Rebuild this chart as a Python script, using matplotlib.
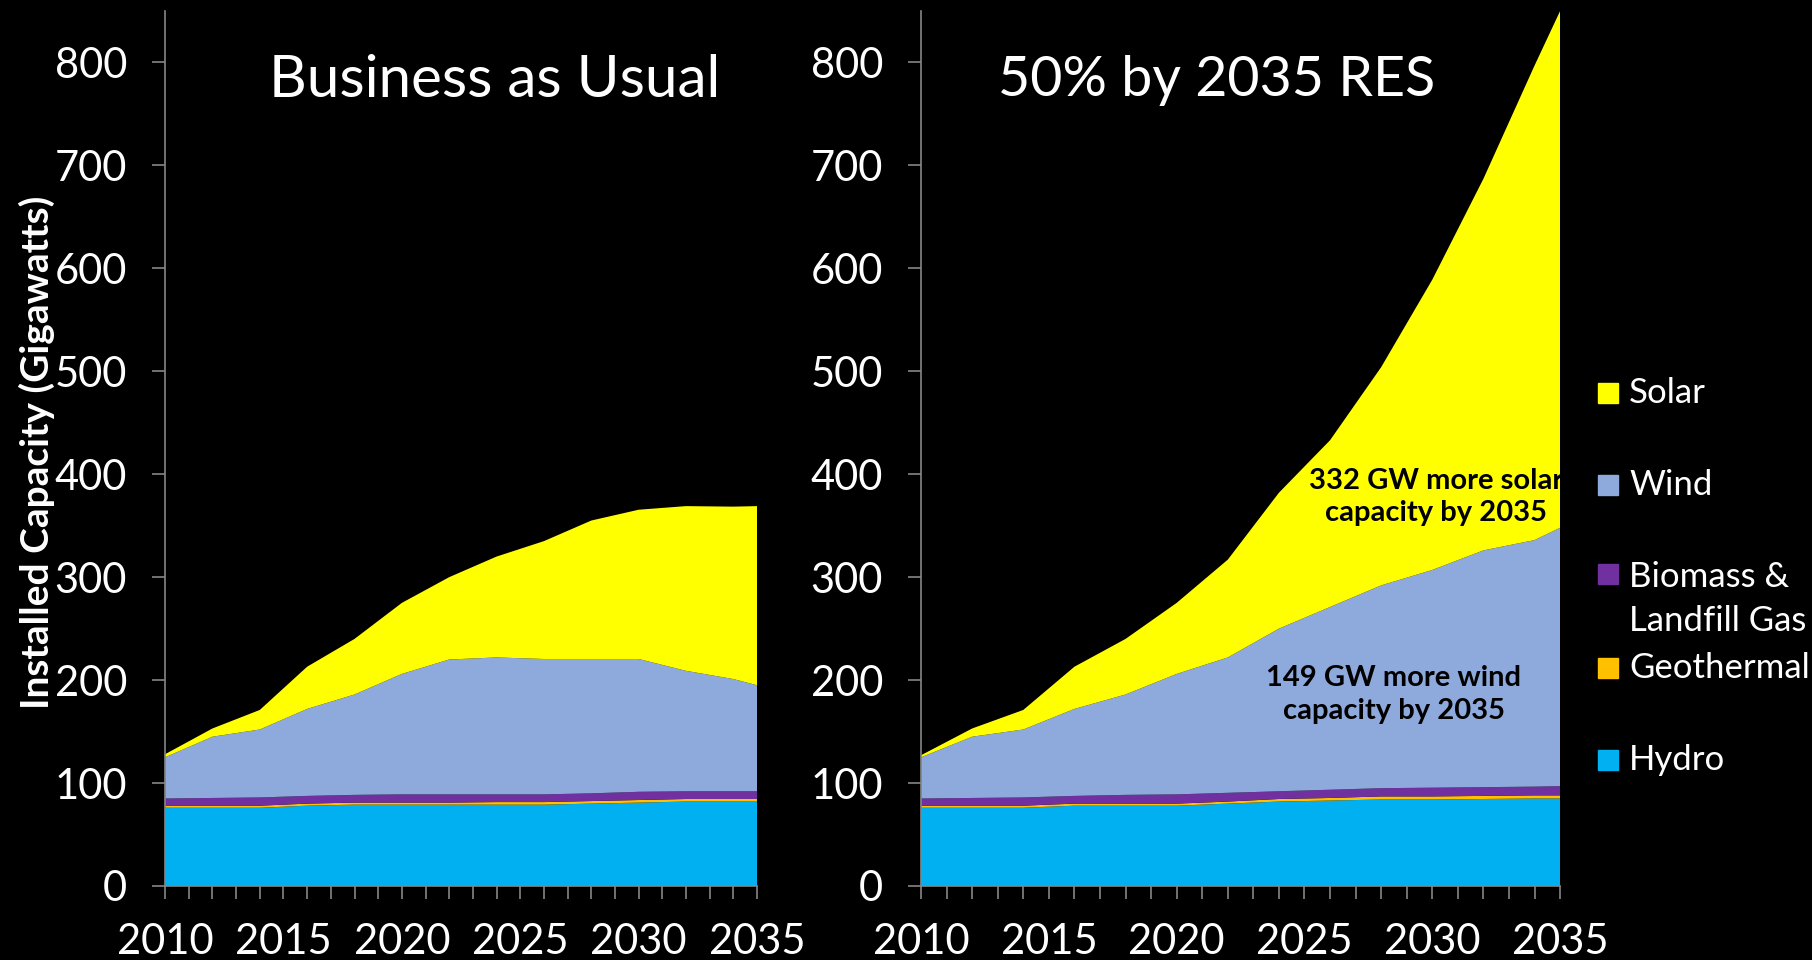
import numpy as np
import matplotlib.pyplot as plt
from matplotlib.patches import Rectangle

plt.rcParams['font.family'] = ['Lato', 'DejaVu Sans']

years = [2010, 2012, 2014, 2016, 2018, 2020, 2022, 2024, 2026, 2028, 2030, 2032, 2034, 2035]

sources = ["Hydro", "Geothermal", "Biomass &\nLandfill Gas", "Wind", "Solar"]
colors = ["#00B0F0", "#FFC000", "#7030A0", "#8EA9DB", "#FFFF00"]

# Business as Usual (GW per source, stacked bottom->top)
bau_hydro = [76, 76, 76, 78, 79, 79, 79, 79, 79, 80, 81, 82, 82, 82]
bau_geo = [2, 2, 2, 2, 2, 2, 2, 2.5, 2.5, 2.5, 2.5, 2.5, 2.5, 2.5]
bau_biomass = [7, 7.5, 8, 7.5, 7.5, 8, 8, 7.5, 7.5, 7.5, 8, 7.5, 7.5, 7.5]
bau_wind = [40, 59.5, 66, 84.5, 97.5, 117, 131, 133, 131.5, 130.5, 129, 117, 109, 103]
bau_solar = [3, 8, 19, 41, 54, 69, 80, 98, 114.5, 134.5, 145, 160, 167.5, 174]

# 50% by 2035 RES
res_hydro = [76, 76, 76, 78, 78, 78, 80, 82, 83, 84, 84, 84.5, 85, 85]
res_geo = [2, 2, 2, 2, 2, 2, 2, 2.5, 2.5, 3, 3, 3, 3, 3]
res_biomass = [7, 7.5, 8, 7.5, 8.5, 9, 8.5, 7.5, 8, 8, 8.5, 8.5, 8.5, 9]
res_wind = [40, 59.5, 66, 84.5, 97.5, 117, 131.5, 158, 177.5, 197, 211.5, 230, 239.5, 251]
res_solar = [2, 8, 19, 41, 54, 69, 95, 132, 162, 212, 282, 361, 461, 502]

fig = plt.figure(figsize=(18.12, 9.6), dpi=100, facecolor="black")
ax1 = fig.add_axes([0.0911, 0.0771, 0.3267, 0.9115])
ax2 = fig.add_axes([0.5083, 0.0771, 0.3527, 0.9115])

panels = [
    (ax1, [bau_hydro, bau_geo, bau_biomass, bau_wind, bau_solar], "Business as Usual", 0.556, 42),
    (ax2, [res_hydro, res_geo, res_biomass, res_wind, res_solar], "50% by 2035 RES", 0.463, 40),
]

for ax, series, title, tx, tsize in panels:
    ax.set_facecolor("black")
    ax.stackplot(years, *series, colors=colors, linewidth=0)
    ax.set_xlim(2010, 2035)
    ax.set_ylim(0, 850)
    ax.set_yticks(np.arange(0, 801, 100))
    ax.set_xticks(np.arange(2010, 2036, 5))
    ax.set_xticks(np.arange(2010, 2036, 1), minor=True)
    for s in ["top", "right"]:
        ax.spines[s].set_visible(False)
    for s in ["left", "bottom"]:
        ax.spines[s].set_color("#868686")
        ax.spines[s].set_linewidth(1.2)
    ax.tick_params(axis="y", colors="#868686", labelcolor="white", labelsize=30,
                   length=9.4, width=1.2, direction="out", pad=18)
    ax.tick_params(axis="x", which="both", colors="#868686", labelcolor="white",
                   labelsize=30, length=9.4, width=1.2, direction="out", pad=17)
    ax.text(tx, 0.92, title, transform=ax.transAxes, ha="center", va="center",
            color="white", fontsize=tsize)

fig.text(37 / 1812, 0.529, "Installed Capacity (Gigawatts)", rotation=90,
         ha="center", va="center", color="white", fontsize=28, fontweight="bold")

ax2.text(2030.15, 378, "332 GW more solar\ncapacity by 2035", ha="center", va="center",
         color="black", fontsize=21, fontweight="bold", linespacing=1.3)
ax2.text(2028.5, 186, "149 GW more wind\ncapacity by 2035", ha="center", va="center",
         color="black", fontsize=21, fontweight="bold", linespacing=1.3)

# legend (top entry first), drawn in figure coordinates
legend_y = [393, 485, 574, 668, 760]
legend_order = [4, 3, 2, 1, 0]
line_gap = 50
for yp, i in zip(legend_y, legend_order):
    nlines = sources[i].count("\n") + 1
    yf = 1 - yp / 960
    fig.add_artist(Rectangle((1598 / 1812, yf - 10 / 960), 20 / 1812, 20 / 960,
                             transform=fig.transFigure, color=colors[i]))
    fig.text(1629 / 1812, yf - (nlines - 1) * line_gap / 2 / 960, sources[i],
             color="white", fontsize=25, va="center", linespacing=1.44)

fig.savefig("out.png", dpi=100, facecolor="black")
